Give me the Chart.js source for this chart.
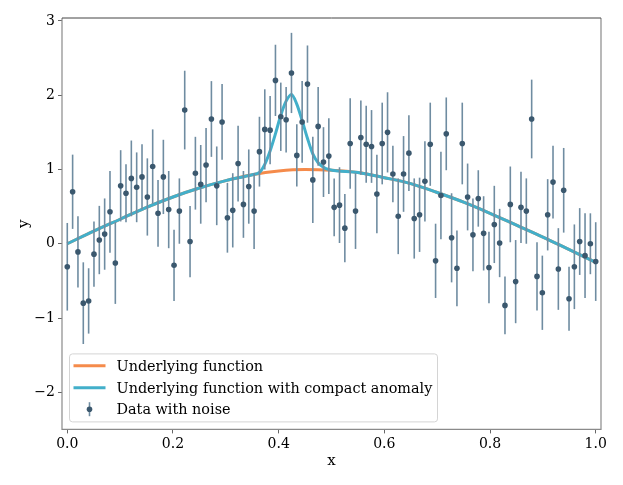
<!DOCTYPE html>
<html><head><meta charset="utf-8">
<script src="https://cdn.jsdelivr.net/npm/chart.js@4.4.1/dist/chart.umd.min.js"></script>
<style>html,body{margin:0;padding:0;background:#fff;}canvas{display:block;}</style>
</head><body>
<canvas id="c" width="623" height="485"></canvas>
<script>
// ---- data ----
const xTicks = [0, 0.2, 0.4, 0.6, 0.8, 1.0];
const yTicks = [-2, -1, 0, 1, 2, 3];

// noisy measurements (100 samples, evenly spaced on [0, 1])
const dataY = [
 -0.31, 0.70,-0.11,-0.80,-0.77,-0.14, 0.05, 0.13, 0.43,-0.26,
  0.78, 0.68, 0.88, 0.76, 0.90, 0.63, 1.04, 0.41, 0.90, 0.46,
 -0.29, 0.44, 1.80, 0.03, 0.95, 0.80, 1.06, 1.68, 0.78, 1.64,
  0.35, 0.45, 1.08, 0.53, 0.77, 0.44, 1.24, 1.54, 1.53, 2.20,
  1.71, 1.67, 2.30, 1.19, 1.64, 2.15, 0.86, 1.58, 1.10, 1.18,
  0.49, 0.52, 0.21, 1.35, 0.44, 1.43, 1.34, 1.31, 0.67, 1.35,
  1.50, 0.94, 0.37, 0.94, 1.22, 0.34, 0.39, 0.84, 1.34,-0.23,
  0.65, 1.48, 0.08,-0.33, 1.35, 0.63, 0.12, 0.61, 0.14,-0.32,
  0.26, 0.01,-0.83, 0.53,-0.51, 0.49, 0.44, 1.68,-0.44,-0.66,
  0.39, 0.83,-0.34, 0.72,-0.74,-0.31, 0.03,-0.16, 0.00,-0.24
];
const dataErr = [
  0.59,0.50,0.48,0.55,0.44,0.44,0.46,0.48,0.55,0.55,
  0.48,0.39,0.51,0.47,0.44,0.52,0.50,0.45,0.50,0.52,
  0.48,0.44,0.53,0.48,0.49,0.53,0.50,0.51,0.53,0.51,
  0.47,0.50,0.51,0.45,0.50,0.51,0.47,0.54,0.46,0.48,
  0.46,0.44,0.54,0.42,0.55,0.52,0.58,0.53,0.47,0.51,
  0.39,0.51,0.46,0.61,0.51,0.50,0.52,0.49,0.53,0.55,
  0.54,0.38,0.51,0.51,0.51,0.54,0.50,0.54,0.56,0.50,
  0.59,0.49,0.60,0.51,0.55,0.45,0.49,0.38,0.50,0.48,
  0.52,0.46,0.39,0.51,0.56,0.48,0.44,0.53,0.46,0.50,
  0.48,0.49,0.55,0.57,0.43,0.57,0.45,0.57,0.41,0.53
];
const dataX = dataY.map((_, i) => i / 99);

// underlying function, read at intervals of 0.05
const baseX = [0,0.05,0.10,0.15,0.20,0.25,0.30,0.35,0.40,0.45,0.50,0.55,0.60,0.65,0.70,0.75,0.80,0.85,0.90,0.95,1.00];
const baseY = [0,0.17,0.33,0.49,0.63,0.75,0.85,0.93,0.98,1.00,0.99,0.96,0.89,0.81,0.69,0.56,0.41,0.25,0.09,-0.08,-0.25];

// underlying function with compact anomaly
const anomX = [0,0.05,0.10,0.15,0.20,0.25,0.30,0.35,0.3636,0.3737,0.3838,0.3939,0.4040,0.4141,0.4242,0.4343,0.4444,0.4545,0.4646,0.4747,0.4848,0.4949,0.55,0.60,0.65,0.70,0.75,0.80,0.85,0.90,0.95,1.00];
const anomY = [0,0.17,0.33,0.49,0.63,0.75,0.85,0.93,0.96,1.07,1.25,1.48,1.73,1.92,2.01,1.88,1.66,1.42,1.21,1.09,1.03,1.00,0.96,0.89,0.81,0.69,0.56,0.41,0.25,0.09,-0.08,-0.25];

const labels = ['Underlying function', 'Underlying function with compact anomaly', 'Data with noise'];
const ORANGE = '#f58b4b', BLUE = '#42afca', PT = '#3b586e', BAR = '#6f8ca1';
const FONT = '"DejaVu Serif", "Liberation Serif", serif';

const zip = (xs, ys) => xs.map((x, i) => ({x, y: ys[i]}));

const errorBars = {
  id: 'errorBars',
  beforeDatasetDraw(chart, args) {
    if (args.index !== 2) return;
    const {ctx, scales: {x, y}} = chart;
    ctx.save();
    ctx.strokeStyle = BAR; ctx.lineWidth = 1.6;
    dataY.forEach((v, i) => {
      const px = x.getPixelForValue(dataX[i]);
      ctx.beginPath();
      ctx.moveTo(px, y.getPixelForValue(v + dataErr[i]));
      ctx.lineTo(px, y.getPixelForValue(v - dataErr[i]));
      ctx.stroke();
    });
    ctx.restore();
  }
};

const frame = {
  id: 'frame',
  afterDraw(chart) {
    const {ctx, chartArea: a} = chart;
    ctx.save();
    ctx.lineWidth = 1.2; ctx.strokeStyle = '#8a8a8a';
    ctx.beginPath();
    ctx.moveTo(a.left, a.top); ctx.lineTo(a.left, a.bottom); ctx.lineTo(a.right, a.bottom); ctx.lineTo(a.right, a.top);
    ctx.stroke();
    ctx.lineWidth = 1; ctx.strokeStyle = '#444';
    ctx.beginPath(); ctx.moveTo(a.left, a.top); ctx.lineTo(a.right, a.top); ctx.stroke();

    // legend
    const bx = a.left + 7.5, by = a.bottom - 75.5, w = 368, h = 68;
    ctx.beginPath();
    ctx.roundRect(bx, by, w, h, 3);
    ctx.fillStyle = 'rgba(255,255,255,0.85)'; ctx.fill();
    ctx.strokeStyle = '#d4d4d4'; ctx.lineWidth = 1; ctx.stroke();
    const rows = [by + 11.9, by + 33.9, by + 55.3];
    ctx.lineWidth = 3; ctx.lineCap = 'butt';
    [ORANGE, BLUE].forEach((c, k) => {
      ctx.strokeStyle = c; ctx.beginPath();
      ctx.moveTo(bx + 4, rows[k]); ctx.lineTo(bx + 36, rows[k]); ctx.stroke();
    });
    ctx.strokeStyle = BAR; ctx.lineWidth = 1.6;
    ctx.beginPath(); ctx.moveTo(bx + 20, rows[2] - 7); ctx.lineTo(bx + 20, rows[2] + 7); ctx.stroke();
    ctx.fillStyle = PT; ctx.beginPath(); ctx.arc(bx + 20, rows[2], 2.8, 0, Math.PI * 2); ctx.fill();
    ctx.fillStyle = '#000'; ctx.font = '14.4px ' + FONT; ctx.textBaseline = 'middle'; ctx.textAlign = 'left';
    labels.forEach((t, k) => ctx.fillText(t, bx + 47, rows[k] + 1));
    ctx.restore();
  }
};

const fmtY = v => (v < 0 ? '\u2212' + Math.abs(v) : String(v));

new Chart(document.getElementById('c'), {
  type: 'scatter',
  data: {
    datasets: [
      {label: labels[0], type: 'line', data: zip(baseX, baseY), borderColor: ORANGE, borderWidth: 3,
       pointRadius: 0, cubicInterpolationMode: 'monotone', fill: false, order: 2},
      {label: labels[1], type: 'line', data: zip(anomX, anomY), borderColor: BLUE, borderWidth: 3,
       pointRadius: 0, cubicInterpolationMode: 'monotone', fill: false, order: 1},
      {label: labels[2], data: zip(dataX, dataY), backgroundColor: PT, borderWidth: 0,
       pointRadius: 2.8, order: 0}
    ]
  },
  options: {
    responsive: false, animation: false,
    layout: {padding: {top: 18, right: 22, left: 0, bottom: 0}},
    plugins: {legend: {display: false}, tooltip: {enabled: false}},
    scales: {
      x: {
        type: 'linear', min: -0.01, max: 1.01,
        afterBuildTicks: s => { s.ticks = xTicks.map(v => ({value: v})); },
        afterFit: s => { s.height = 55.6; },
        ticks: {callback: v => v.toFixed(1), color: '#000', font: {family: FONT, size: 14}, autoSkip: false, maxRotation: 0, padding: 3},
        grid: {drawOnChartArea: false, drawTicks: true, tickLength: 4, color: '#666'},
        border: {display: false},
        title: {display: true, text: 'x', color: '#000', font: {family: FONT, size: 15}, padding: {top: 0, bottom: 15}}
      },
      y: {
        type: 'linear', min: -2.5, max: 3.04,
        afterBuildTicks: s => { s.ticks = yTicks.map(v => ({value: v})); },
        afterFit: s => { s.width = 62; },
        ticks: {callback: fmtY, color: '#000', font: {family: FONT, size: 14}, autoSkip: false, padding: 3},
        grid: {drawOnChartArea: false, drawTicks: true, tickLength: 4, color: '#666'},
        border: {display: false},
        title: {display: true, text: 'y', color: '#000', font: {family: FONT, size: 15}, padding: {top: 15, bottom: 0}}
      }
    }
  },
  plugins: [errorBars, frame]
});
</script>
</body></html>
